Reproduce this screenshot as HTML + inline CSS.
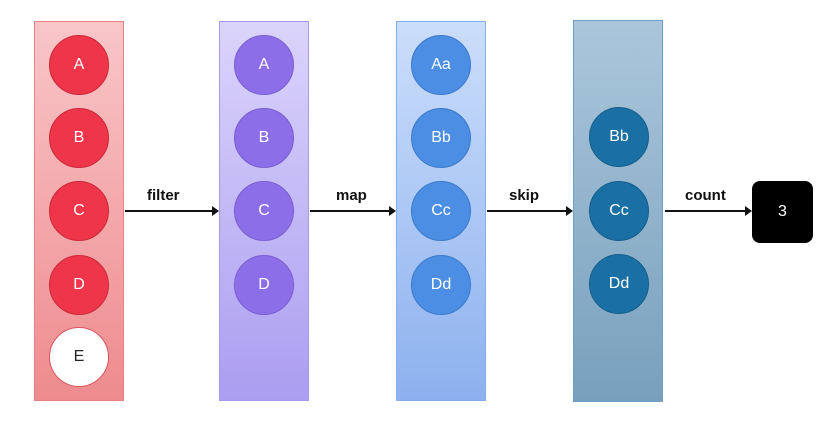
<!DOCTYPE html>
<html><head><style>
body{margin:0;width:838px;height:421px;background:#fff;position:relative;overflow:hidden;font-family:"Liberation Sans",sans-serif}
.col{position:absolute;top:21px;width:90px;height:380px;box-sizing:border-box}
.c{position:absolute;width:60px;height:60px;border-radius:50%;color:#fff;font-size:16px;display:flex;align-items:center;justify-content:center;box-sizing:border-box}
.lbl{position:absolute;font-weight:bold;font-size:15px;color:#111}
.ar{position:absolute;height:2px;background:#111;top:210px}
.ar:after{content:"";position:absolute;right:-2px;top:-4px;border-left:7px solid #111;border-top:5px solid transparent;border-bottom:5px solid transparent}
</style></head><body>
<div class="col" style="left:34px;background:linear-gradient(#f9c6c8,#ee8b8e);border:1px solid #e98083"></div>
<div class="col" style="left:219px;background:linear-gradient(#dbd4fb,#ab9df0);border:1px solid #a898ef"></div>
<div class="col" style="left:396px;background:linear-gradient(#cbdefb,#8db1ee);border:1px solid #86aded"></div>
<div class="col" style="left:573px;top:20px;height:382px;background:linear-gradient(#abc6db,#78a0bd);border:1px solid #6f9fc6"></div>

<div class="c" style="left:49px;top:35px;background:#ef3549;border:1px solid #c92a3b">A</div>
<div class="c" style="left:49px;top:108px;background:#ef3549;border:1px solid #c92a3b">B</div>
<div class="c" style="left:49px;top:181px;background:#ef3549;border:1px solid #c92a3b">C</div>
<div class="c" style="left:49px;top:255px;background:#ef3549;border:1px solid #c92a3b">D</div>
<div class="c" style="left:49px;top:327px;background:#fff;border:1px solid #d9545f;color:#222">E</div>

<div class="c" style="left:234px;top:35px;background:#8b6ee8;border:1px solid #7a5fd0">A</div>
<div class="c" style="left:234px;top:108px;background:#8b6ee8;border:1px solid #7a5fd0">B</div>
<div class="c" style="left:234px;top:181px;background:#8b6ee8;border:1px solid #7a5fd0">C</div>
<div class="c" style="left:234px;top:255px;background:#8b6ee8;border:1px solid #7a5fd0">D</div>

<div class="c" style="left:411px;top:35px;background:#4b8ee3;border:1px solid #3d7acb">Aa</div>
<div class="c" style="left:411px;top:108px;background:#4b8ee3;border:1px solid #3d7acb">Bb</div>
<div class="c" style="left:411px;top:181px;background:#4b8ee3;border:1px solid #3d7acb">Cc</div>
<div class="c" style="left:411px;top:255px;background:#4b8ee3;border:1px solid #3d7acb">Dd</div>

<div class="c" style="left:589px;top:107px;background:#1a70a4;border:1px solid #155f8c">Bb</div>
<div class="c" style="left:589px;top:181px;background:#1a70a4;border:1px solid #155f8c">Cc</div>
<div class="c" style="left:589px;top:254px;background:#1a70a4;border:1px solid #155f8c">Dd</div>

<div class="ar" style="left:125px;width:92px"></div>
<div class="ar" style="left:310px;width:84px"></div>
<div class="ar" style="left:487px;width:84px"></div>
<div class="ar" style="left:665px;width:85px"></div>
<div class="lbl" style="left:147px;top:187px">filter</div>
<div class="lbl" style="left:336px;top:187px">map</div>
<div class="lbl" style="left:509px;top:187px">skip</div>
<div class="lbl" style="left:685px;top:187px">count</div>

<div style="position:absolute;left:752px;top:181px;width:61px;height:62px;background:#000;border-radius:8px;color:#fff;font-size:16px;display:flex;align-items:center;justify-content:center">3</div>
</body></html>
